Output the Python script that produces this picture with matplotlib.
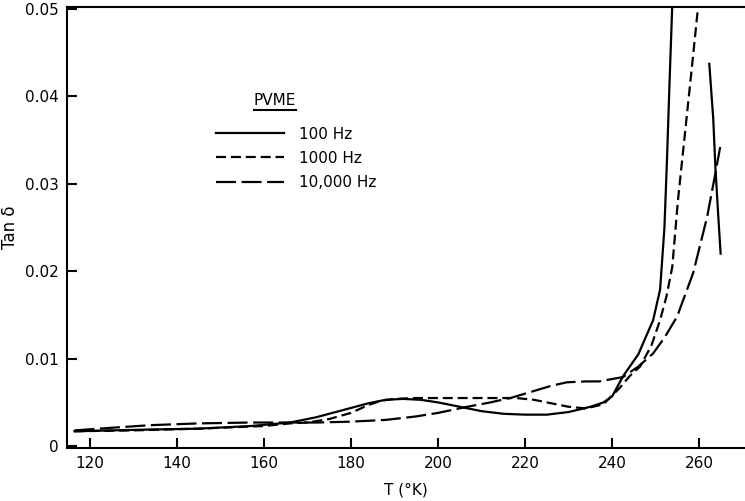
import numpy as np
import matplotlib.pyplot as plt
from matplotlib.lines import Line2D

# tan delta vs temperature for PVME
t_100 = [116.5, 125, 134, 145, 157, 166, 172, 178, 184, 188, 192, 196, 200, 205,
         210, 215, 220, 225, 230, 235, 238, 240, 242.5, 246, 249.4, 251, 252,
         252.6, 253.2, 253.8, 254.2]
v_100 = [0.0017, 0.0018, 0.0019, 0.0020, 0.0023, 0.0027, 0.0033, 0.0041, 0.0049,
         0.0053, 0.0054, 0.0053, 0.0050, 0.0045, 0.0040, 0.0037, 0.0036, 0.0036,
         0.0039, 0.0045, 0.0050, 0.0057, 0.0080, 0.0105, 0.0144, 0.0179, 0.0250,
         0.0330, 0.0420, 0.0505, 0.0560]

# short solid branch near 263 K
t_100b = [262.3, 263.2, 263.7, 264.3, 264.9]
v_100b = [0.0437, 0.0375, 0.0319, 0.0268, 0.0220]

t_1000 = [116.5, 130, 145, 160, 166, 170, 175, 180, 184, 187, 190, 195, 200, 210,
          218, 222, 226, 230, 234, 238, 241.8, 244, 246.4, 249, 251, 252.5, 253.8,
          255.1, 256.7, 258.3, 259.7, 260.5]
v_1000 = [0.0017, 0.0018, 0.0020, 0.0023, 0.0026, 0.0027, 0.0031, 0.0038, 0.0047,
          0.0052, 0.0054, 0.0055, 0.0055, 0.0055, 0.0055, 0.0053, 0.0049, 0.0045,
          0.0043, 0.0048, 0.0067, 0.0080, 0.0091, 0.0115, 0.0144, 0.0172, 0.0205,
          0.0281, 0.0357, 0.0433, 0.0501, 0.0550]

t_10000 = [116.5, 125, 134, 145, 157, 166, 172, 180, 188, 195, 200, 206.7, 212,
           216.6, 222, 226, 229.6, 234, 237, 242.5, 246, 249.4, 252, 254.9, 258.6,
           261.8, 263.7, 264.8]
v_10000 = [0.0018, 0.0021, 0.0024, 0.0026, 0.0027, 0.0027, 0.0027, 0.0028, 0.0030,
           0.0034, 0.0038, 0.0045, 0.0050, 0.0055, 0.0063, 0.0069, 0.0073, 0.0074,
           0.0074, 0.0079, 0.0091, 0.0106, 0.0124, 0.0148, 0.0198, 0.0262, 0.0312,
           0.0342]

x_ticks = [120, 140, 160, 180, 200, 220, 240, 260]
y_ticks = [0, 0.01, 0.02, 0.03, 0.04, 0.05]
y_labels = ["0", "0.01", "0.02", "0.03", "0.04", "0.05"]

plt.rcParams["font.family"] = "DejaVu Sans"
plt.rcParams["font.size"] = 11

fig = plt.figure(figsize=(7.45, 5.01), dpi=100)
ax = fig.add_axes([0.090, 0.106, 0.910, 0.880])

lw = 1.6
short_dash = (0, (4.5, 2.2))
long_dash = (0, (9, 2.5))
l1, = ax.plot(t_100, v_100, color="black", lw=lw, label="100 Hz")
ax.plot(t_100b, v_100b, color="black", lw=lw)
l2, = ax.plot(t_1000, v_1000, color="black", lw=lw, linestyle=short_dash, label="1000 Hz")
l3, = ax.plot(t_10000, v_10000, color="black", lw=lw, linestyle=long_dash, label="10,000 Hz")

ax.set_xlim(114.8, 270.5)
ax.set_ylim(-0.0002, 0.0502)
ax.set_xticks(x_ticks)
ax.set_yticks(y_ticks)
ax.set_yticklabels(y_labels)
ax.tick_params(direction="in", length=7, width=1.5, pad=6, labelsize=11)
for s in ["left", "bottom", "top"]:
    ax.spines[s].set_linewidth(1.5)
ax.spines["right"].set_visible(False)

ax.set_xlabel("T (°K)", fontsize=11, labelpad=8)
ax.set_ylabel("Tan δ", fontsize=12, labelpad=4)

leg = ax.legend(handles=[l1, l2, l3], loc="upper left",
                bbox_to_anchor=(0.20, 0.76), frameon=False, fontsize=11,
                handlelength=4.4, handletextpad=1.0, labelspacing=0.6)

title = ax.text(0.307, 0.789, "PVME", transform=ax.transAxes,
                ha="center", va="center", fontsize=11)

# underline the title
fig.canvas.draw()
bb = title.get_window_extent().transformed(fig.transFigure.inverted())
fig.add_artist(Line2D([bb.x0, bb.x1], [bb.y0 - 0.005, bb.y0 - 0.005],
                      color="black", lw=1.5, transform=fig.transFigure))

fig.savefig("out.png", dpi=100)
